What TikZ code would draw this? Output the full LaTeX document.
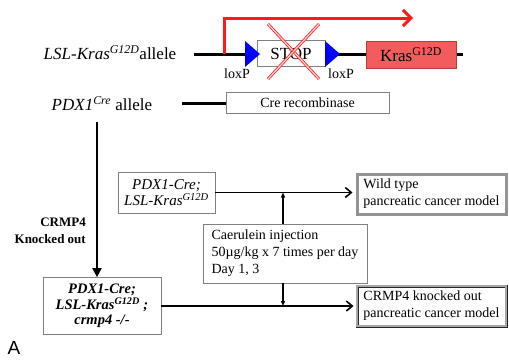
\documentclass[tikz,border=0pt]{standalone}
\usepackage{fontspec}
\setmainfont{Liberation Serif}
\setsansfont{Liberation Sans}
\usepackage{tikz}
\usetikzlibrary{arrows.meta}
\usetikzlibrary{positioning}

\definecolor{krasred}{HTML}{F25C5C}
\definecolor{krasedge}{HTML}{B83A3A}
\definecolor{promred}{HTML}{FF1A1A}

\tikzset{
  allele/.style={inner sep=0pt, font=\fontsize{17}{20}\selectfont},
  dna/.style={line width=3pt},
  box/.style={draw=black!50, fill=white, line width=0.7pt, inner sep=0pt, align=center},
  txt/.style={font=\fontsize{14}{17}\selectfont},
  krasbox/.style={draw=krasedge, fill=krasred, line width=0.7pt, inner sep=0pt,
    minimum width=90pt, minimum height=27pt, font=\fontsize{17}{20}\selectfont},
  loxp/.style={fill=blue},
  promoter/.style={draw=promred, line width=3pt, -{Straight Barb[length=8pt,width=16pt,line width=3pt]}},
  cross/.style={draw=red!85, double=red!20, double distance=1.3pt, line width=0.8pt},
  flow/.style={-{Straight Barb[length=6pt,width=10pt]}, line width=1.6pt, shorten >=3pt},
  knock/.style={-{Triangle[length=9pt,width=9pt]}, line width=1.8pt},
  tick/.style={-{Triangle[length=5pt,width=4pt]}, line width=1.3pt},
  wtbox/.style={draw=gray!85, fill=white, line width=3pt, inner sep=0pt,
    minimum width=149pt, minimum height=40pt, txt, align=left},
  kobox/.style={draw=black!85, double=gray!70, double distance=1.2pt, line width=0.9pt,
    fill=white, inner sep=0pt, minimum width=149pt, minimum height=40pt, txt, align=left}
}

\begin{document}
\begin{tikzpicture}[x=1pt,y=-1pt]
  \useasboundingbox (0,0) rectangle (509,359);

  % LSL-Kras allele
  \node[allele] (kraslabel) at (110,53) {\textit{LSL-Kras}\textsuperscript{\textit{G12D}}allele};
  \coordinate (kl) at (194,54);
  \coordinate (kr) at (463,54);
  \draw[dna] (kl) -- (kr);
  \node[box, minimum width=68pt, minimum height=26pt, font=\fontsize{17}{20}\selectfont] (stop) at (291,53.5) {STOP};
  \node[krasbox] (kras) at (411,54.5) {Kras\textsuperscript{G12D}};
  \fill[loxp] (245,41) -- (260,54) -- (245,67) -- cycle;
  \fill[loxp] (325,41) -- (340,54) -- (325,67) -- cycle;
  \node[txt] (loxa) at (237,74) {loxP};
  \node[txt] (loxb) at (341,74) {loxP};
  \draw[cross] (268,24) -- (319,79);
  \draw[cross] (319,24) -- (268,79);
  \coordinate (tss) at (224,54);
  \coordinate (tssend) at (413,18);
  \draw[promoter] (tss) |- (tssend);

  % PDX1-Cre allele
  \node[allele] (pdxlabel) at (102,104) {\textit{PDX1}\textsuperscript{\textit{Cre}} allele};
  \coordinate (pl) at (182,103);
  \coordinate (pr) at (226,103);
  \draw[dna] (pl) -- (pr);
  \node[box, minimum width=163pt, minimum height=21pt, txt] (cre) at (307.5,102.5) {Cre recombinase};

  % mice
  \node[box, minimum width=97pt, minimum height=41pt, font=\fontsize{15}{16}\selectfont\itshape] (wt) at (166.5,192.5)
    {PDX1-Cre;\\LSL-Kras\textsuperscript{G12D}};
  \node[box, minimum width=118pt, minimum height=57pt, font=\fontsize{14.5}{15.5}\selectfont\bfseries\itshape] (ko) at (102,306)
    {PDX1-Cre;\\LSL-Kras\textsuperscript{G12D} ;\\crmp4 -/-};
  \coordinate (pdxdown) at (97,122);
  \draw[knock] (pdxdown) -- (pdxdown |- ko.north);
  \node[anchor=east, align=right, inner sep=0pt, font=\fontsize{13}{17}\selectfont\bfseries] (kolabel) at (86,231)
    {CRMP4\\Knocked out};

  % caerulein
  \node[box, minimum width=164pt, minimum height=59pt, txt, align=left] (cae) at (285,253.5)
    {Caerulein injection\\50\textmu g/kg x 7 times per day\\Day 1, 3};

  % models
  \node[wtbox] (wtmodel) at (431.5,194) {Wild type\\pancreatic cancer model};
  \node[kobox] (komodel) at (431.5,306) {CRMP4 knocked out\\pancreatic cancer model};
  \draw[flow] (wt.east) -- (wt.east -| wtmodel.west);
  \draw[flow] (ko.east) -- (ko.east -| komodel.west);
  \draw[tick] ([xshift=-2pt]cae.north) -- ([xshift=-2pt]cae.north |- wt.east);
  \draw[tick] ([xshift=-2pt]cae.south) -- ([xshift=-2pt]cae.south |- ko.east);

  \node[font=\sffamily\fontsize{19}{22}\selectfont, inner sep=0pt] (panel) at (14,348) {A};
\end{tikzpicture}
\end{document}
